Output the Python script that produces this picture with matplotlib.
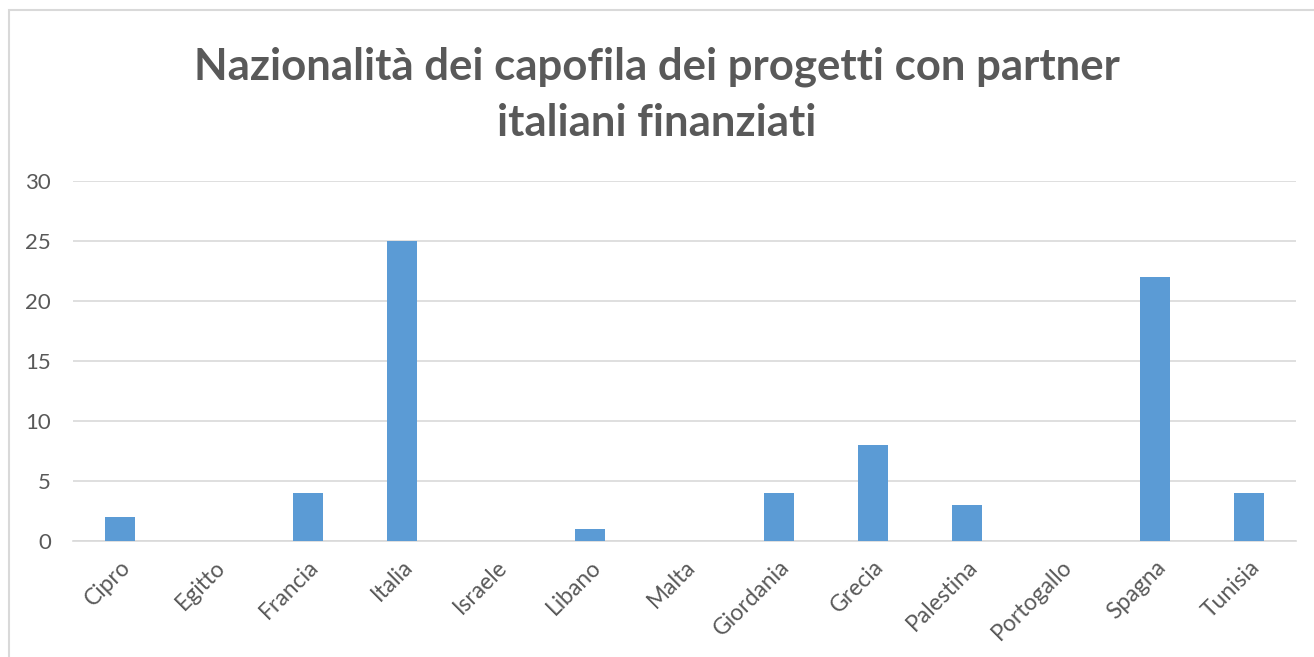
import matplotlib.pyplot as plt
from matplotlib.patches import Rectangle

# Data
paesi = ['Cipro', 'Egitto', 'Francia', 'Italia', 'Israele', 'Libano', 'Malta',
         'Giordania', 'Grecia', 'Palestina', 'Portogallo', 'Spagna', 'Tunisia']
progetti = [2, 0, 4, 25, 0, 1, 0, 4, 8, 3, 0, 22, 4]
y_ticks = [0, 5, 10, 15, 20, 25, 30]

titolo = 'Nazionalità dei capofila dei progetti con partner\nitaliani finanziati'

bar_color = '#5B9BD5'
text_color = '#595959'
grid_color = '#D9D9D9'

plt.rcParams['font.family'] = ['Lato', 'DejaVu Sans']

fig = plt.figure(figsize=(13.14, 6.57), dpi=100)
ax = fig.add_axes([73 / 1314, 1 - 541 / 657, 1223 / 1314, 360 / 657])

# chart border (outer frame like the office chart)
fig.patches.append(Rectangle((9 / 1314, -0.1), 1.2, 1 - 10 / 657 + 0.1,
                             transform=fig.transFigure, fill=False,
                             edgecolor=grid_color, linewidth=1.5))

x = range(len(paesi))
ax.bar(x, progetti, width=0.32, color=bar_color, zorder=3)

ax.set_xlim(-0.5, len(paesi) - 0.5)
ax.set_ylim(0, 30)
ax.set_yticks(y_ticks)
ax.set_xticks(list(x))
ax.set_xticklabels(paesi, rotation=45, ha='right', rotation_mode='anchor')
ax.grid(axis='y', color=grid_color, linewidth=1.2, zorder=0)
ax.tick_params(axis='both', length=0, labelcolor=text_color)
ax.tick_params(axis='x', pad=11, labelsize=16.5)
ax.tick_params(axis='y', pad=16, labelsize=16)

for side in ['top', 'right', 'left']:
    ax.spines[side].set_visible(False)
ax.spines['bottom'].set_color(grid_color)
ax.spines['bottom'].set_linewidth(1.2)

fig.text(0.5, 1 - 95 / 657, titolo, ha='center', va='center', fontsize=31.5,
         fontweight='bold', color=text_color, linespacing=1.5)

fig.savefig('out.png', dpi=100)
